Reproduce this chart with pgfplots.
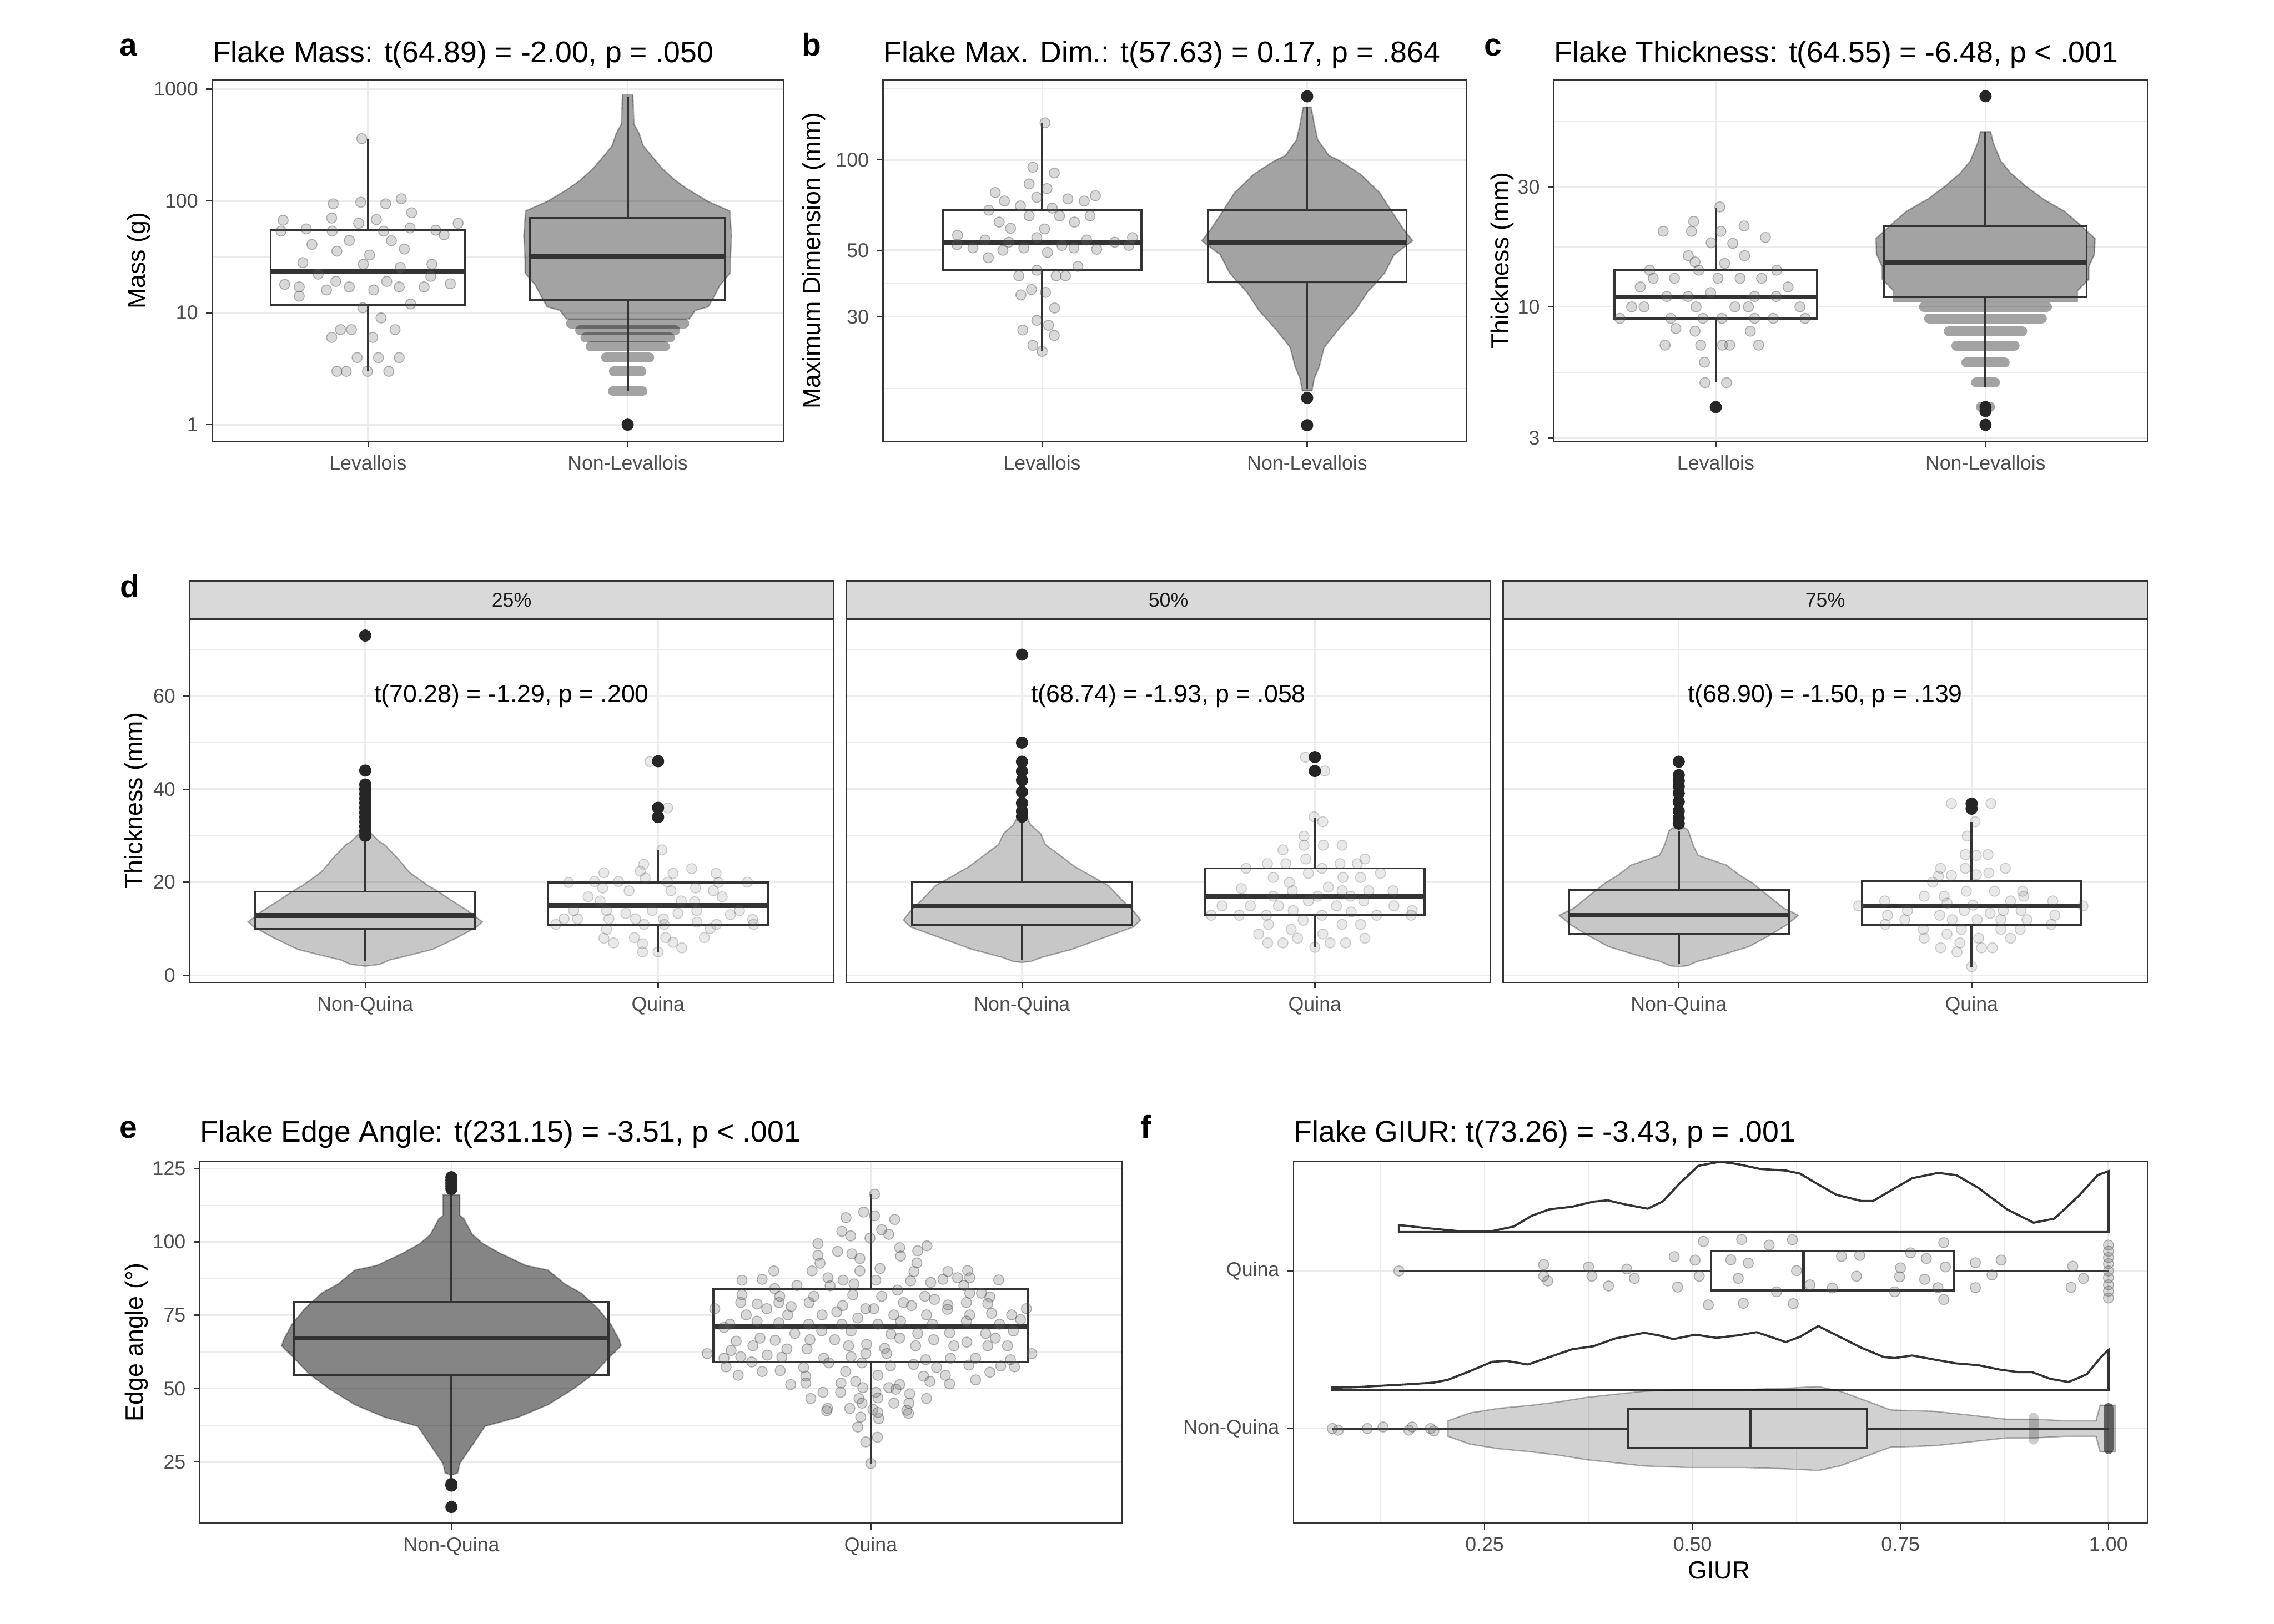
\documentclass[border=0pt]{standalone}
\usepackage{pgfplots}
\pgfplotsset{compat=1.18}
\usepackage{fontspec}
\setmainfont{Liberation Sans}
\pgfplotsset{
 gg/.style={scale only axis, anchor=south west, axis line style={black!80,line width=0.6pt},
  tick align=outside, tick pos=left, major tick length=2.75pt, minor tick length=0pt,
  tick style={black!80,line width=0.6pt},
  major grid style={black!8,line width=0.7pt}, minor grid style={black!8,line width=0.35pt},
  tick label style={font=\fontsize{8.8}{10}\selectfont, text=black!70}},
 pt/.style={only marks, mark=*, mark size=2.25pt, mark options={fill=black!60, draw=black!70, fill opacity=0.25, draw opacity=0.4, line width=0.4pt}},
 ptl/.style={only marks, mark=*, mark size=2.25pt, mark options={fill=black!60, draw=black!70, fill opacity=0.14, draw opacity=0.25, line width=0.4pt}},
 outl/.style={only marks, mark=*, mark size=2.5pt, mark options={fill=black!85, draw=black!85}},
 bxf/.style={fill=white, draw=none},
 bxl/.style={draw=black!80, line width=0.95pt, fill=none},
 wk/.style={black!80, line width=0.95pt},
 md/.style={black!80, line width=2.1pt},
 sw/.style={fill=black, fill opacity=#1, draw=black, draw opacity=0.3, line width=0.6pt},
 rw/.style={black, opacity=#1, line width=4.4pt, line cap=round},
}
\begin{document}
\begin{tikzpicture}
\useasboundingbox (0,0) rectangle (1008pt,720pt);
% ================= panel a =================
\begin{axis}[gg, at={(94.08pt,524.4pt)}, width=253.2pt, height=160.08pt,
 xmin=0.4, xmax=2.6, ymode=log, ymin=0.713, ymax=1205,
 xtick={1,2}, xticklabels={Levallois,Non-Levallois},
 ytick={1,10,100,1000}, yticklabels={1,10,100,1000},
 minor ytick={3.162,31.62,316.2}, xmajorgrids, ymajorgrids, yminorgrids]
\addplot[bxf] coordinates {(0.625,11.7)(1.375,11.7)(1.375,54.8)(0.625,54.8)} -- cycle;
\addplot[bxf] coordinates {(1.625,13)(2.375,13)(2.375,70.4)(1.625,70.4)} -- cycle;
\addplot[sw=0.36] coordinates {(2.02,893)(2.024,488)(2.044,403)(2.06,312)(2.09,257)(2.13,199)(2.18,155)(2.23,128)(2.31,99)(2.393,81.5)(2.40,49)(2.395,29.4)(2.395,22.8)(2.355,17.6)(2.33,13.6)(2.31,11.3)(2.26,10.5)(2.245,9.3)(2.235,8.8)
(1.765,8.8)(1.755,9.3)(1.74,10.5)(1.69,11.3)(1.67,13.6)(1.645,17.6)(1.605,22.8)(1.605,29.4)(1.60,49)(1.607,81.5)(1.69,99)(1.77,128)(1.82,155)(1.87,199)(1.91,257)(1.94,312)(1.956,403)(1.976,488)(1.98,893)} -- cycle;
\addplot[rw=0.36] coordinates {(1.782,8)(2.218,8)};
\addplot[rw=0.36] coordinates {(1.817,7)(2.183,7)};
\addplot[rw=0.36] coordinates {(1.837,6)(2.163,6)};
\addplot[rw=0.36] coordinates {(1.857,5)(2.143,5)};
\addplot[rw=0.36] coordinates {(1.917,4)(2.083,4)};
\addplot[rw=0.36] coordinates {(1.947,3)(2.053,3)};
\addplot[rw=0.36] coordinates {(1.943,2)(2.057,2)};
\addplot[pt] coordinates {(0.976,361)(0.866,94.4)(0.972,97.5)(1.068,94.4)(1.128,104.6)(1.168,78.5)(0.673,67.3)(0.860,70.4)(0.964,63.2)(1.032,68.2)(1.347,63.2)(0.665,53.8)(0.762,56.3)(0.862,53.8)(1.060,53.8)(1.162,57.4)(1.261,54.9)(1.293,49.9)(0.784,40.9)(0.928,44.4)(1.090,44.2)(0.880,35.6)(1.140,37.2)(1.006,32.9)(0.749,28.1)(0.982,27.2)(1.246,27.2)(1.124,25.5)(0.808,22.2)(1.242,21.2)(0.679,17.96)(0.735,17.06)(0.876,19.1)(0.928,17.06)(1.022,16.0)(1.072,19.1)(1.120,17.06)(1.216,17.06)(1.317,18.2)(0.735,14.1)(0.840,16.0)(1.164,12.0)(0.980,11.1)(1.050,9.0)(0.894,7.07)(0.936,7.07)(0.860,6.03)(1.018,6.03)(1.104,7.07)(0.958,3.98)(1.040,3.98)(1.120,3.98)(0.880,3.0)(0.916,3.0)(0.998,3.0)(1.080,3.0)};
\addplot[bxl] coordinates {(0.625,11.7)(1.375,11.7)(1.375,54.8)(0.625,54.8)} -- cycle;
\addplot[wk] coordinates {(1,54.8)(1,360)};
\addplot[wk] coordinates {(1,11.7)(1,3.0)};
\addplot[md] coordinates {(0.625,23.6)(1.375,23.6)};
\addplot[bxl] coordinates {(1.625,13)(2.375,13)(2.375,70.4)(1.625,70.4)} -- cycle;
\addplot[wk] coordinates {(2,70.4)(2,861)};
\addplot[wk] coordinates {(2,13)(2,2.0)};
\addplot[md] coordinates {(1.625,32)(2.375,32)};
\addplot[outl] coordinates {(2,1)};
\end{axis}
% ================= panel b =================
\begin{axis}[gg, at={(391.44pt,524.4pt)}, width=258.48pt, height=160.08pt,
 xmin=0.4, xmax=2.6, ymode=log, ymin=11.55, ymax=184.7,
 xtick={1,2}, xticklabels={Levallois,Non-Levallois},
 ytick={30,50,100}, yticklabels={30,50,100},
 minor ytick={17.32,38.73,70.71,173.2}, xmajorgrids, ymajorgrids, yminorgrids]
\addplot[bxf] coordinates {(0.625,43.1)(1.375,43.1)(1.375,68.1)(0.625,68.1)} -- cycle;
\addplot[bxf] coordinates {(1.625,39.2)(2.375,39.2)(2.375,68.1)(1.625,68.1)} -- cycle;
\addplot[sw=0.36] coordinates {(2.015,150)(2.027,131.5)(2.04,116.8)(2.082,103.6)(2.128,98.8)(2.2,89.8)(2.274,77.8)(2.319,67.4)(2.365,58.5)(2.398,53.8)(2.328,48.3)(2.292,41.9)(2.228,36.3)(2.182,31.5)(2.119,27.3)(2.064,23.7)(2.046,20.5)(2.027,18.7)(2.018,17.0)
(1.982,17.0)(1.973,18.7)(1.954,20.5)(1.936,23.7)(1.881,27.3)(1.818,31.5)(1.772,36.3)(1.708,41.9)(1.672,48.3)(1.602,53.8)(1.635,58.5)(1.681,67.4)(1.726,77.8)(1.80,89.8)(1.872,98.8)(1.918,103.6)(1.96,116.8)(1.973,131.5)(1.985,150)} -- cycle;
\addplot[pt] coordinates {(1.011,133)(0.965,94.6)(1.046,90.5)(0.951,83.2)(1.018,80.3)(0.823,77.9)(0.858,73.0)(0.980,75.1)(1.097,74.2)(1.159,73.0)(1.201,76.0)(0.918,70.3)(1.038,69.1)(0.799,68.0)(0.951,65.1)(1.066,65.1)(1.181,65.1)(0.838,62.1)(1.122,62.1)(0.881,59.2)(1.009,58.9)(0.681,56.1)(0.785,54.1)(0.874,53.2)(0.980,55.1)(1.168,54.1)(1.274,53.2)(1.341,55.1)(0.679,52.2)(0.739,50.9)(0.931,50.9)(1.075,51.9)(1.120,50.9)(1.206,50.4)(1.327,51.9)(0.852,50.0)(1.020,49.2)(0.797,47.2)(1.135,44.2)(0.980,42.9)(0.912,41.1)(1.053,41.1)(1.088,41.1)(0.920,35.5)(0.960,37.0)(1.013,36.2)(1.047,32.1)(0.980,29.2)(1.024,28.1)(0.927,27.1)(1.046,26.0)(0.965,24.1)(1.0,23.0)};
\addplot[bxl] coordinates {(0.625,43.1)(1.375,43.1)(1.375,68.1)(0.625,68.1)} -- cycle;
\addplot[wk] coordinates {(1,68.1)(1,132.4)};
\addplot[wk] coordinates {(1,43.1)(1,23.1)};
\addplot[md] coordinates {(0.625,53.2)(1.375,53.2)};
\addplot[bxl] coordinates {(1.625,39.2)(2.375,39.2)(2.375,68.1)(1.625,68.1)} -- cycle;
\addplot[wk] coordinates {(2,68.1)(2,150)};
\addplot[wk] coordinates {(2,39.2)(2,17.2)};
\addplot[md] coordinates {(1.625,53.2)(2.375,53.2)};
\addplot[outl] coordinates {(2,163)(2,16.1)(2,13.05)};
\end{axis}
% ================= panel c =================
\begin{axis}[gg, at={(688.8pt,524.4pt)}, width=263.04pt, height=160.08pt,
 xmin=0.4, xmax=2.6, ymode=log, ymin=2.92, ymax=80,
 xtick={1,2}, xticklabels={Levallois,Non-Levallois},
 ytick={3,10,30}, yticklabels={3,10,30},
 minor ytick={5.477,17.32,54.77}, xmajorgrids, ymajorgrids, yminorgrids]
\addplot[bxf] coordinates {(0.625,8.99)(1.375,8.99)(1.375,13.96)(0.625,13.96)} -- cycle;
\addplot[bxf] coordinates {(1.625,10.96)(2.375,10.96)(2.375,21.0)(1.625,21.0)} -- cycle;
\addplot[sw=0.36] coordinates {(2.019,49.8)(2.029,45)(2.057,38)(2.096,33.9)(2.149,30.3)(2.211,27)(2.291,24.1)(2.345,21.5)(2.406,18.7)(2.404,16.2)(2.383,14.45)(2.383,12.9)(2.341,11.6)(2.341,10.5)
(1.659,10.5)(1.659,11.6)(1.617,12.9)(1.617,14.45)(1.596,16.2)(1.594,18.7)(1.655,21.5)(1.709,24.1)(1.789,27)(1.851,30.3)(1.904,33.9)(1.943,38)(1.971,45)(1.981,49.8)} -- cycle;
\addplot[rw=0.36] coordinates {(1.772,10)(2.228,10)};
\addplot[rw=0.36] coordinates {(1.791,9)(2.209,9)};
\addplot[rw=0.36] coordinates {(1.864,8)(2.136,8)};
\addplot[rw=0.36] coordinates {(1.892,7)(2.108,7)};
\addplot[rw=0.36] coordinates {(1.929,6)(2.071,6)};
\addplot[rw=0.36] coordinates {(1.965,5)(2.035,5)};
\addplot[rw=0.36] coordinates {(1.983,4)(2.017,4)};
\addplot[pt] coordinates {(1.015,25.0)(0.918,21.9)(1.105,21.0)(0.805,20.0)(0.910,20.0)(1.019,20.0)(1.184,18.9)(0.983,18.0)(1.063,17.9)(0.898,16.0)(1.107,16.0)(0.923,15.1)(1.033,14.9)(0.937,14.0)(0.755,14.0)(0.768,13.0)(0.847,13.0)(1.008,13.0)(1.090,13.0)(1.170,13.0)(1.226,14.0)(1.268,12.0)(0.720,12.0)(0.981,11.4)(0.818,11.0)(0.897,11.0)(1.144,11.0)(1.224,11.0)(0.688,10.0)(0.734,10.0)(0.927,10.0)(1.071,10.0)(1.121,10.0)(1.312,10.0)(0.644,9.0)(0.833,9.0)(0.952,9.0)(1.023,9.0)(1.144,9.0)(1.213,9.0)(1.331,9.0)(0.852,8.2)(0.923,8.0)(1.128,8.0)(0.812,7.04)(0.944,7.04)(1.025,7.04)(1.052,7.04)(1.159,7.04)(0.958,6.02)(0.960,4.99)(1.040,4.99)(1.0,3.99)};
\addplot[bxl] coordinates {(0.625,8.99)(1.375,8.99)(1.375,13.96)(0.625,13.96)} -- cycle;
\addplot[wk] coordinates {(1,13.96)(1,24.9)};
\addplot[wk] coordinates {(1,8.99)(1,5.02)};
\addplot[md] coordinates {(0.625,10.96)(1.375,10.96)};
\addplot[bxl] coordinates {(1.625,10.96)(2.375,10.96)(2.375,21.0)(1.625,21.0)} -- cycle;
\addplot[wk] coordinates {(2,21.0)(2,49.8)};
\addplot[wk] coordinates {(2,10.96)(2,4.8)};
\addplot[md] coordinates {(1.625,15.0)(2.375,15.0)};
\addplot[outl] coordinates {(1,3.99)(2,69)(2,3.99)(2,3.85)(2,3.39)};
\end{axis}
% ================= panel d, facet 1 =================
\begin{axis}[gg, at={(84pt,284.4pt)}, width=285.6pt, height=161.04pt,
 xmin=0.4, xmax=2.6, ymin=-1.5, ymax=76.5,
 xtick={1,2}, xticklabels={Non-Quina,Quina},
 ytick={0,20,40,60}, yticklabels={0,20,40,60},
 minor ytick={10,30,50,70}, xmajorgrids, ymajorgrids, yminorgrids]
\addplot[bxf] coordinates {(0.625,9.9)(1.375,9.9)(1.375,18.0)(0.625,18.0)} -- cycle;
\addplot[bxf] coordinates {(1.625,10.85)(2.375,10.85)(2.375,20.0)(1.625,20.0)} -- cycle;
\addplot[sw=0.22] coordinates {(1.02,30.5)(1.049,28.7)(1.066,28.1)(1.11,25.2)(1.15,22.2)(1.214,19.3)(1.24,18.4)(1.29,16.3)(1.35,13.9)(1.40,11.5)(1.38,10.4)(1.31,8.0)(1.23,5.6)(1.155,4.4)(1.082,3.3)(1.05,2.4)(1.0,2.0)
(0.95,2.4)(0.918,3.3)(0.845,4.4)(0.77,5.6)(0.69,8.0)(0.62,10.4)(0.60,11.5)(0.65,13.9)(0.71,16.3)(0.76,18.4)(0.786,19.3)(0.85,22.2)(0.89,25.2)(0.934,28.1)(0.951,28.7)(0.98,30.5)} -- cycle;
\addplot[ptl] coordinates {(1.972,45.93)(2.033,35.97)(2.013,26.96)(1.951,23.88)(1.939,22.40)(1.815,22.05)(2.115,22.93)(2.051,21.93)(2.198,21.93)(1.694,19.97)(1.783,20.15)(1.865,20.15)(2.033,20.03)(2.206,19.97)(2.305,20.03)(1.811,18.79)(1.956,20.92)(2.128,18.79)(2.189,18.19)(1.901,18.19)(2.044,18.19)(1.761,16.89)(2.219,16.89)(1.802,16.00)(2.079,16.00)(2.125,15.82)(1.712,13.93)(1.824,13.93)(1.890,13.33)(1.980,13.93)(2.068,13.33)(2.132,13.93)(2.278,13.93)(2.247,13.04)(1.679,12.15)(1.725,12.15)(1.832,12.15)(1.923,12.15)(2.018,12.15)(2.133,11.44)(2.199,10.96)(2.323,12.03)(1.651,10.96)(1.952,10.96)(2.021,10.96)(2.326,10.96)(1.824,9.90)(2.178,10.08)(1.815,8.00)(1.919,8.12)(2.026,8.12)(2.158,8.12)(1.848,6.99)(1.947,6.82)(2.051,7.11)(2.081,5.93)(1.947,5.04)(2.000,5.04)};
\addplot[bxl] coordinates {(0.625,9.9)(1.375,9.9)(1.375,18.0)(0.625,18.0)} -- cycle;
\addplot[wk] coordinates {(1,18.0)(1,29.0)};
\addplot[wk] coordinates {(1,9.9)(1,3.0)};
\addplot[md] coordinates {(0.625,12.9)(1.375,12.9)};
\addplot[bxl] coordinates {(1.625,10.85)(2.375,10.85)(2.375,20.0)(1.625,20.0)} -- cycle;
\addplot[wk] coordinates {(2,20.0)(2,27.0)};
\addplot[wk] coordinates {(2,10.85)(2,5.0)};
\addplot[md] coordinates {(1.625,15.0)(2.375,15.0)};
\addplot[outl] coordinates {(1,30)(1,31)(1,32)(1,33)(1,34)(1,35)(1,36)(1,37)(1,38)(1,39)(1,40)(1,41)(1,44)(1,73)(2,46)(2,36)(2,34)};
\node[font=\fontsize{11}{13}\selectfont] at (axis cs:1.5,60) {t(70.28) = -1.29, p = .200};
\end{axis}
% ================= panel d, facet 2 =================
\begin{axis}[gg, at={(375.12pt,284.4pt)}, width=285.6pt, height=161.04pt,
 xmin=0.4, xmax=2.6, ymin=-1.5, ymax=76.5,
 xtick={1,2}, xticklabels={Non-Quina,Quina},
 ytick={0,20,40,60}, yticklabels={,,,}, ytick style={draw=none},
 minor ytick={10,30,50,70}, xmajorgrids, ymajorgrids, yminorgrids]
\addplot[bxf] coordinates {(0.625,10.85)(1.375,10.85)(1.375,20.03)(0.625,20.03)} -- cycle;
\addplot[bxf] coordinates {(1.625,12.9)(2.375,12.9)(2.375,23.0)(1.625,23.0)} -- cycle;
\addplot[sw=0.22] coordinates {(1.02,33.5)(1.03,32.3)(1.063,30.5)(1.08,28.1)(1.13,25.8)(1.18,23.4)(1.23,21.6)(1.295,19.3)(1.34,16.3)(1.38,13.9)(1.405,11.9)(1.38,10.4)(1.275,8.0)(1.17,5.6)(1.068,3.9)(1.03,3.0)(1.0,2.8)
(0.97,3.0)(0.932,3.9)(0.83,5.6)(0.725,8.0)(0.62,10.4)(0.595,11.9)(0.62,13.9)(0.66,16.3)(0.705,19.3)(0.77,21.6)(0.82,23.4)(0.87,25.8)(0.92,28.1)(0.937,30.5)(0.97,32.3)(0.98,33.5)} -- cycle;
\addplot[ptl] coordinates {(1.968,46.88)(2.034,43.91)(1.997,34.08)(2.027,33.01)(1.963,29.93)(1.963,27.97)(2.029,27.97)(2.093,27.97)(1.891,26.97)(1.969,25.01)(2.171,25.01)(1.765,23.00)(1.838,24.00)(1.901,24.00)(2.024,23.00)(2.086,24.00)(2.145,24.00)(1.978,21.93)(2.224,21.93)(1.858,21.04)(1.913,19.97)(2.096,21.04)(2.156,21.04)(2.046,18.96)(1.749,18.67)(1.923,18.19)(2.093,18.19)(2.184,18.19)(2.267,18.19)(2.009,17.01)(1.858,17.01)(2.122,17.01)(1.683,14.94)(1.780,14.94)(1.876,14.94)(1.978,16.00)(2.074,14.94)(2.167,16.00)(2.270,14.94)(2.332,13.93)(1.926,13.93)(2.124,13.63)(1.646,12.92)(1.742,12.92)(1.835,12.92)(2.024,12.92)(2.211,12.92)(2.329,12.92)(1.960,11.85)(1.842,10.96)(2.093,10.96)(2.156,10.96)(1.919,9.90)(1.808,8.89)(2.027,8.89)(1.941,8.00)(2.171,8.00)(1.839,6.99)(1.891,6.99)(2.052,6.99)(2.105,6.99)(2.000,6.05)};
\addplot[bxl] coordinates {(0.625,10.85)(1.375,10.85)(1.375,20.03)(0.625,20.03)} -- cycle;
\addplot[wk] coordinates {(1,20.03)(1,33.5)};
\addplot[wk] coordinates {(1,10.85)(1,3.4)};
\addplot[md] coordinates {(0.625,14.94)(1.375,14.94)};
\addplot[bxl] coordinates {(1.625,12.9)(2.375,12.9)(2.375,23.0)(1.625,23.0)} -- cycle;
\addplot[wk] coordinates {(2,23.0)(2,33.8)};
\addplot[wk] coordinates {(2,12.9)(2,6.05)};
\addplot[md] coordinates {(1.625,16.95)(2.375,16.95)};
\addplot[outl] coordinates {(1,68.9)(1,50)(1,45.9)(1,43.85)(1,41.9)(1,39.4)(1,37.0)(1,35.3)(1,34.1)(2,46.9)(2,43.9)};
\node[font=\fontsize{11}{13}\selectfont] at (axis cs:1.5,60) {t(68.74) = -1.93, p = .058};
\end{axis}
% ================= panel d, facet 3 =================
\begin{axis}[gg, at={(666.24pt,284.4pt)}, width=285.6pt, height=161.04pt,
 xmin=0.4, xmax=2.6, ymin=-1.5, ymax=76.5,
 xtick={1,2}, xticklabels={Non-Quina,Quina},
 ytick={0,20,40,60}, yticklabels={,,,}, ytick style={draw=none},
 minor ytick={10,30,50,70}, xmajorgrids, ymajorgrids, yminorgrids]
\addplot[bxf] coordinates {(0.625,8.89)(1.375,8.89)(1.375,18.37)(0.625,18.37)} -- cycle;
\addplot[bxf] coordinates {(1.625,10.79)(2.375,10.79)(2.375,20.15)(1.625,20.15)} -- cycle;
\addplot[sw=0.22] coordinates {(1.02,31.7)(1.033,31.1)(1.048,28.1)(1.066,25.8)(1.163,23.7)(1.206,21.6)(1.25,19.9)(1.31,16.9)(1.357,14.5)(1.408,12.9)(1.372,11.0)(1.31,8.6)(1.24,6.2)(1.147,4.4)(1.063,3.0)(1.03,2.1)(1.0,1.9)
(0.97,2.1)(0.937,3.0)(0.853,4.4)(0.76,6.2)(0.69,8.6)(0.628,11.0)(0.592,12.9)(0.643,14.5)(0.69,16.9)(0.75,19.9)(0.794,21.6)(0.837,23.7)(0.934,25.8)(0.952,28.1)(0.967,31.1)(0.98,31.7)} -- cycle;
\addplot[ptl] coordinates {(1.931,36.92)(2.066,36.92)(2.012,33.01)(1.985,29.93)(1.978,25.96)(2.016,25.78)(2.056,25.96)(1.894,23.00)(1.978,23.00)(2.115,23.00)(1.887,21.33)(1.931,21.45)(2.016,21.63)(2.059,22.05)(1.867,20.03)(1.982,18.08)(2.078,18.08)(2.174,18.08)(1.838,17.01)(1.906,17.01)(2.178,17.01)(1.703,16.00)(1.916,15.53)(2.004,15.11)(2.133,16.00)(2.277,16.00)(1.614,14.94)(1.781,13.93)(1.975,13.93)(2.063,13.33)(2.169,13.93)(2.108,13.93)(2.284,12.92)(1.891,12.92)(1.713,12.92)(1.772,11.97)(1.934,11.97)(2.019,11.97)(2.100,11.97)(2.189,11.97)(2.272,10.96)(1.705,10.96)(1.835,9.90)(1.965,9.90)(2.100,9.90)(2.166,9.90)(1.838,8.00)(1.916,8.89)(2.024,8.00)(2.133,8.00)(1.960,6.99)(1.894,5.93)(2.034,5.93)(2.071,5.93)(1.950,5.04)(2.000,1.90)(2.380,14.94)};
\addplot[bxl] coordinates {(0.625,8.89)(1.375,8.89)(1.375,18.37)(0.625,18.37)} -- cycle;
\addplot[wk] coordinates {(1,18.37)(1,31.1)};
\addplot[wk] coordinates {(1,8.89)(1,2.55)};
\addplot[md] coordinates {(0.625,12.92)(1.375,12.92)};
\addplot[bxl] coordinates {(1.625,10.79)(2.375,10.79)(2.375,20.15)(1.625,20.15)} -- cycle;
\addplot[wk] coordinates {(2,20.15)(2,32.9)};
\addplot[wk] coordinates {(2,10.79)(2,1.9)};
\addplot[md] coordinates {(1.625,14.94)(2.375,14.94)};
\addplot[outl] coordinates {(1,45.9)(1,43.0)(1,41.8)(1,40.6)(1,39.1)(1,37.3)(1,35.3)(1,33.8)(1,32.6)(2,36.9)(2,35.8)};
\node[font=\fontsize{11}{13}\selectfont] at (axis cs:1.5,60) {t(68.90) = -1.50, p = .139};
\end{axis}
% ================= panel e =================
\begin{axis}[gg, at={(88.56pt,44.64pt)}, width=408.96pt, height=160.56pt,
 xmin=0.4, xmax=2.6, ymin=4.2, ymax=127.5,
 xtick={1,2}, xticklabels={Non-Quina,Quina},
 ytick={25,50,75,100,125}, yticklabels={25,50,75,100,125},
 minor ytick={12.5,37.5,62.5,87.5,112.5}, xmajorgrids, ymajorgrids, yminorgrids]
\addplot[bxf] coordinates {(0.625,54.56)(1.375,54.56)(1.375,79.4)(0.625,79.4)} -- cycle;
\addplot[bxf] coordinates {(1.625,59.0)(2.375,59.0)(2.375,83.9)(1.625,83.9)} -- cycle;
\addplot[sw=0.48] coordinates {(1.02,116)(1.02,109)(1.03,107.8)(1.05,102.5)(1.075,99.4)(1.115,96.2)(1.177,92)(1.23,90.4)(1.27,85.7)(1.31,82.5)(1.35,77.2)(1.38,72)(1.40,66.7)(1.405,64.6)(1.375,60.4)(1.34,55.1)(1.29,49.8)(1.23,44.5)(1.16,40.3)(1.08,37.2)(1.06,32.9)(1.04,28.7)(1.02,24.5)(1.015,21.3)(1.0,20.5)
(0.985,21.3)(0.98,24.5)(0.96,28.7)(0.94,32.9)(0.92,37.2)(0.84,40.3)(0.77,44.5)(0.71,49.8)(0.66,55.1)(0.625,60.4)(0.595,64.6)(0.60,66.7)(0.62,72)(0.65,77.2)(0.69,82.5)(0.73,85.7)(0.77,90.4)(0.823,92)(0.885,96.2)(0.925,99.4)(0.95,102.5)(0.97,107.8)(0.98,109)(0.98,116)} -- cycle;
\addplot[pt] coordinates {(2.009,116.24)(1.983,110.13)(1.941,108.23)(2.057,107.6)(2.009,108.86)(1.931,103.59)(2.026,104.12)(2.043,102.53)(1.952,102.01)(1.998,101.27)(1.874,99.37)(2.069,98.00)(2.134,98.63)(2.112,96.95)(1.921,96.73)(1.955,95.89)(1.874,95.36)(1.879,92.73)(1.974,94.31)(2.071,95.15)(2.110,92.83)(1.769,90.09)(1.974,90.09)(2.022,90.94)(2.103,89.88)(2.184,89.88)(2.231,90.20)(2.236,87.77)(1.741,87.24)(1.693,86.93)(1.824,85.14)(1.860,90.09)(1.898,87.77)(1.934,86.93)(2.012,86.93)(2.095,86.72)(2.143,86.19)(2.172,87.24)(2.207,87.77)(2.305,87.03)(1.771,84.08)(1.903,85.03)(1.960,85.66)(2.064,83.56)(2.222,85.14)(2.264,82.50)(2.284,81.24)(1.693,81.98)(1.783,81.45)(1.864,81.45)(1.957,81.98)(2.026,81.45)(2.129,81.45)(2.236,82.50)(1.690,79.34)(1.729,78.81)(1.781,79.34)(1.853,79.34)(1.933,78.28)(2.007,77.23)(2.078,79.34)(2.152,80.39)(2.184,78.50)(2.228,79.34)(2.279,79.02)(1.628,77.23)(1.752,77.23)(1.810,77.97)(1.919,76.17)(1.988,77.23)(2.097,78.28)(2.183,77.02)(1.703,75.12)(1.802,75.12)(1.884,75.12)(1.969,74.06)(2.055,75.12)(2.133,75.12)(2.236,75.12)(2.288,75.65)(2.336,75.12)(2.371,77.23)(1.664,71.96)(1.729,73.01)(1.781,72.48)(1.852,71.96)(1.931,71.96)(2.017,71.96)(2.071,73.01)(2.147,71.96)(2.228,73.01)(2.307,71.96)(2.357,73.54)(1.650,70.90)(1.819,68.79)(1.883,69.64)(1.953,69.64)(2.048,68.58)(2.112,68.79)(2.188,69.00)(2.274,68.79)(2.340,69.64)(1.679,66.16)(1.736,67.21)(1.772,66.47)(1.855,66.68)(1.914,66.68)(1.990,65.10)(2.069,67.21)(2.150,66.68)(2.229,65.84)(2.297,67.21)(1.667,62.99)(1.719,64.58)(1.800,63.52)(1.848,63.52)(1.947,64.58)(2.033,63.73)(2.107,64.58)(2.198,64.58)(2.279,64.58)(2.326,64.58)(1.610,61.94)(1.650,60.36)(1.690,60.88)(1.753,61.41)(1.788,60.67)(1.888,60.36)(1.953,60.88)(1.988,61.94)(2.038,61.94)(2.131,59.83)(2.190,60.36)(2.250,60.36)(2.333,59.83)(2.384,61.94)(1.655,57.41)(1.716,59.09)(1.784,56.14)(1.840,57.19)(1.900,58.78)(1.979,58.78)(2.047,57.72)(2.102,58.25)(2.157,57.19)(2.234,58.04)(2.310,57.72)(2.343,57.41)(1.684,54.56)(1.741,55.82)(1.845,54.24)(1.940,55.82)(2.017,54.56)(2.126,54.24)(2.178,54.56)(2.250,52.98)(2.284,55.61)(1.809,51.39)(1.845,51.92)(1.929,51.92)(1.964,52.45)(2.043,50.34)(2.069,51.39)(2.141,52.45)(2.188,51.61)(1.886,48.76)(1.928,48.76)(1.981,50.34)(2.012,48.76)(2.060,49.81)(2.093,48.23)(2.133,46.65)(1.857,46.65)(1.972,46.65)(2.017,46.86)(2.091,45.07)(1.897,43.28)(1.950,43.28)(1.979,45.07)(2.005,42.96)(2.055,45.07)(2.086,42.64)(2.090,41.59)(1.895,42.43)(2.017,41.91)(1.976,40.32)(2.019,39.80)(1.969,36.95)(2.016,33.47)(1.988,31.89)(2.000,24.51)};
\addplot[bxl] coordinates {(0.625,54.56)(1.375,54.56)(1.375,79.4)(0.625,79.4)} -- cycle;
\addplot[wk] coordinates {(1,79.4)(1,116.7)};
\addplot[wk] coordinates {(1,54.56)(1,19)};
\addplot[md] coordinates {(0.625,67.2)(1.375,67.2)};
\addplot[bxl] coordinates {(1.625,59.0)(2.375,59.0)(2.375,83.9)(1.625,83.9)} -- cycle;
\addplot[wk] coordinates {(2,83.9)(2,116.2)};
\addplot[wk] coordinates {(2,59.0)(2,24.5)};
\addplot[md] coordinates {(1.625,71.1)(2.375,71.1)};
\addplot[outl] coordinates {(1,122)(1,121)(1,120)(1,119)(1,118)(1,17.5)(1,17)(1,9.7)};
\end{axis}
% ================= panel f =================
\begin{axis}[gg, at={(573.36pt,44.64pt)}, width=378.48pt, height=160.56pt,
 xmin=0.0203, xmax=1.0467, ymin=0.4, ymax=2.696,
 xtick={0.25,0.5,0.75,1}, xticklabels={0.25,0.50,0.75,1.00},
 minor xtick={0.125,0.375,0.625,0.875},
 ytick={1,2}, yticklabels={Non-Quina,Quina}, xmajorgrids, xminorgrids, ymajorgrids]
\addplot[black!80, line width=0.95pt] coordinates {(0.147,2.2457)(0.147,2.287)(0.1496,2.289)(0.180,2.271)(0.224,2.249)(0.259,2.252)(0.285,2.281)(0.307,2.350)(0.328,2.390)(0.355,2.406)(0.381,2.439)(0.398,2.447)(0.420,2.420)(0.446,2.394)(0.464,2.439)(0.485,2.557)(0.507,2.666)(0.533,2.692)(0.555,2.676)(0.581,2.646)(0.612,2.636)(0.629,2.617)(0.651,2.548)(0.673,2.482)(0.703,2.443)(0.717,2.443)(0.738,2.508)(0.764,2.587)(0.795,2.621)(0.817,2.607)(0.843,2.528)(0.878,2.390)(0.910,2.305)(0.935,2.331)(0.965,2.479)(0.987,2.607)(1.0,2.632)(1.0,2.2457)} -- cycle;
\addplot[black!80, line width=0.95pt] coordinates {(0.067,1.2457)(0.067,1.2595)(0.093,1.2615)(0.119,1.2694)(0.154,1.2794)(0.189,1.291)(0.206,1.309)(0.2325,1.364)(0.259,1.423)(0.276,1.429)(0.302,1.406)(0.328,1.453)(0.355,1.502)(0.381,1.522)(0.407,1.571)(0.442,1.607)(0.459,1.591)(0.477,1.567)(0.503,1.595)(0.529,1.575)(0.555,1.591)(0.577,1.611)(0.594,1.581)(0.612,1.548)(0.629,1.581)(0.651,1.650)(0.677,1.581)(0.703,1.512)(0.730,1.453)(0.743,1.447)(0.764,1.463)(0.791,1.437)(0.817,1.413)(0.843,1.402)(0.869,1.374)(0.891,1.358)(0.908,1.358)(0.930,1.315)(0.952,1.295)(0.974,1.344)(0.991,1.453)(1.0,1.498)(1.0,1.2457)} -- cycle;
\addplot[bxf] coordinates {(0.522,1.875)(0.814,1.875)(0.814,2.125)(0.522,2.125)} -- cycle;
\addplot[bxf] coordinates {(0.423,0.875)(0.710,0.875)(0.710,1.125)(0.423,1.125)} -- cycle;
\addplot[sw=0.18] coordinates {(0.206,1.049)(0.2325,1.099)(0.267,1.128)(0.307,1.148)(0.338,1.168)(0.372,1.197)(0.407,1.217)(0.442,1.237)(0.494,1.247)(0.564,1.247)(0.616,1.256)(0.651,1.266)(0.677,1.237)(0.703,1.187)(0.738,1.118)(0.791,1.109)(0.826,1.089)(0.878,1.059)(0.913,1.059)(0.948,1.049)(0.985,1.049)(0.99,1.148)(1.008,1.148)(1.008,0.852)(0.99,0.852)(0.985,0.951)(0.948,0.951)(0.913,0.941)(0.878,0.941)(0.826,0.911)(0.791,0.891)(0.738,0.882)(0.703,0.813)(0.677,0.763)(0.651,0.734)(0.616,0.744)(0.564,0.753)(0.494,0.753)(0.442,0.763)(0.407,0.783)(0.372,0.803)(0.338,0.832)(0.307,0.852)(0.267,0.872)(0.2325,0.901)(0.206,0.951)} -- cycle;
\addplot[rw=0.55] coordinates {(1,0.87)(1,1.13)};
\addplot[rw=0.2] coordinates {(0.91,0.93)(0.91,1.07)};
\addplot[pt] coordinates {(0.067,1.0)(0.074,0.99)(0.109,1.0)(0.128,1.01)(0.159,0.99)(0.163,1.01)(0.185,1.0)(0.189,0.985)};
\addplot[pt] coordinates {(0.147,1.999)(0.321,2.039)(0.321,1.966)(0.326,1.936)(0.375,2.025)(0.379,1.966)(0.399,1.904)(0.421,2.011)(0.430,1.952)(0.478,2.090)(0.503,2.068)(0.482,1.897)(0.508,1.966)(0.513,2.187)(0.519,1.784)(0.546,2.070)(0.559,2.199)(0.555,1.952)(0.561,1.794)(0.567,2.049)(0.592,2.163)(0.601,1.867)(0.620,2.197)(0.621,1.792)(0.625,2.001)(0.641,1.911)(0.668,1.891)(0.679,2.092)(0.701,2.098)(0.697,1.966)(0.750,2.019)(0.743,1.867)(0.749,1.962)(0.762,2.114)(0.781,2.078)(0.779,1.946)(0.795,1.893)(0.802,2.179)(0.802,1.818)(0.804,2.025)(0.840,2.051)(0.840,1.893)(0.860,1.974)(0.871,2.068)(0.957,2.029)(0.955,1.895)(0.970,1.952)(1.0,2.163)(1.0,2.124)(1.0,2.084)(1.0,2.045)(1.0,1.999)(1.0,1.956)(1.0,1.911)(1.0,1.871)(1.0,1.828)};
\addplot[bxl] coordinates {(0.522,1.875)(0.814,1.875)(0.814,2.125)(0.522,2.125)} -- cycle;
\addplot[wk] coordinates {(0.147,2)(0.522,2)};
\addplot[wk] coordinates {(0.814,2)(1.0,2)};
\addplot[black!80, line width=1.3pt] coordinates {(0.633,1.875)(0.633,2.125)};
\addplot[bxl] coordinates {(0.423,0.875)(0.710,0.875)(0.710,1.125)(0.423,1.125)} -- cycle;
\addplot[wk] coordinates {(0.067,1)(0.423,1)};
\addplot[wk] coordinates {(0.710,1)(1.0,1)};
\addplot[black!80, line width=1.3pt] coordinates {(0.570,0.875)(0.570,1.125)};
\end{axis}
% ================= strips and texts =================
\draw[black!80, line width=0.6pt, fill=black!15] (84pt,445.44pt) rectangle (369.6pt,462.48pt);
\draw[black!80, line width=0.6pt, fill=black!15] (375.12pt,445.44pt) rectangle (660.72pt,462.48pt);
\draw[black!80, line width=0.6pt, fill=black!15] (666.24pt,445.44pt) rectangle (951.84pt,462.48pt);
\node[font=\fontsize{8.8}{10}\selectfont, text=black!90] at (226.8pt,453.96pt) {25\%};
\node[font=\fontsize{8.8}{10}\selectfont, text=black!90] at (517.92pt,453.96pt) {50\%};
\node[font=\fontsize{8.8}{10}\selectfont, text=black!90] at (809.04pt,453.96pt) {75\%};
\begin{scope}[every node/.style={font=\bfseries\fontsize{14}{16}\selectfont, anchor=base}]
\node at (56.9pt,695.3pt) {a};
\node at (359.8pt,695.3pt) {b};
\node at (661.7pt,695.3pt) {c};
\node at (57.6pt,455.1pt) {d};
\node at (56.9pt,215.3pt) {e};
\node at (507.8pt,215.3pt) {f};
\end{scope}
\begin{scope}[every node/.style={font=\fontsize{13.2}{15}\selectfont, anchor=base west, inner sep=0pt}]
\node at (94.08pt,692.2pt) {Flake Mass: t(64.89) = -2.00, p = .050};
\node at (391.44pt,692.2pt) {Flake Max. Dim.: t(57.63) = 0.17, p = .864};
\node at (688.8pt,692.2pt) {Flake Thickness: t(64.55) = -6.48, p < .001};
\node at (88.56pt,213.6pt) {Flake Edge Angle: t(231.15) = -3.51, p < .001};
\node at (573.36pt,213.6pt) {Flake GIUR: t(73.26) = -3.43, p = .001};
\end{scope}
\begin{scope}[every node/.style={font=\fontsize{11}{13}\selectfont, rotate=90, anchor=center, inner sep=0pt}]
\node at (61.4pt,604.4pt) {Mass (g)};
\node at (360.8pt,604.4pt) {Maximum Dimension (mm)};
\node at (665.8pt,604.4pt) {Thickness (mm)};
\node at (60.2pt,364.9pt) {Thickness (mm)};
\node at (60.5pt,124.9pt) {Edge angle (°)};
\end{scope}
\node[font=\fontsize{11}{13}\selectfont, anchor=base, inner sep=0pt] at (762pt,20pt) {GIUR};
\end{tikzpicture}
\end{document}
